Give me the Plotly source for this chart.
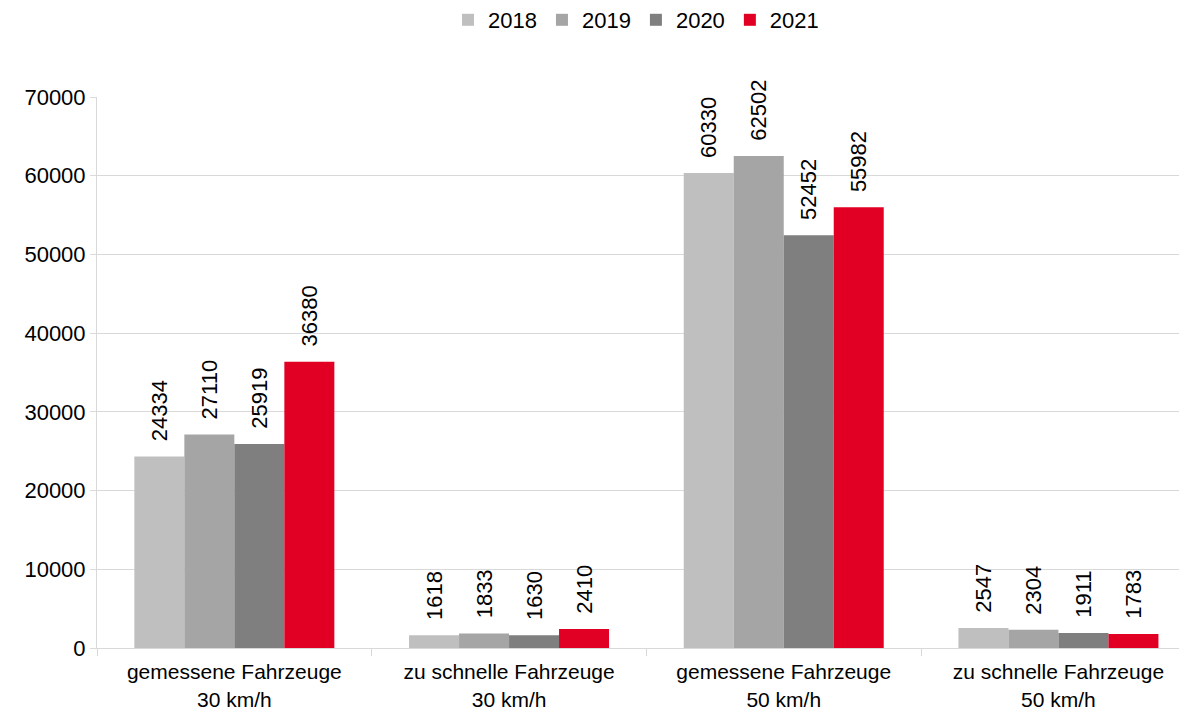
import plotly.graph_objects as go

categories = ["gemessene Fahrzeuge<br>30 km/h", "zu schnelle Fahrzeuge<br>30 km/h",
              "gemessene Fahrzeuge<br>50 km/h", "zu schnelle Fahrzeuge<br>50 km/h"]
years = ["2018", "2019", "2020", "2021"]
v2018 = [24334, 1618, 60330, 2547]
v2019 = [27110, 1833, 62502, 2304]
v2020 = [25919, 1630, 52452, 1911]
v2021 = [36380, 2410, 55982, 1783]
colors = ["#BFBFBF", "#A5A5A5", "#7F7F7F", "#E10024"]
y_ticks = [0, 10000, 20000, 30000, 40000, 50000, 60000, 70000]

FONT = "Liberation Sans, Arial, sans-serif"
FS = 22
PAD = "\u00a0\u00a0"

fig = go.Figure()
for name, vals, col in zip(years, [v2018, v2019, v2020, v2021], colors):
    fig.add_trace(go.Bar(
        x=categories, y=vals, name=name, marker=dict(color=col, line=dict(width=0)),
        text=[PAD + str(v) for v in vals], textposition="outside", textangle=-90,
        textfont=dict(size=FS, color="#000000", family=FONT),
        cliponaxis=False, constraintext="none",
    ))

fig.update_layout(
    barmode="group", bargap=0.272, bargroupgap=0,
    width=1179, height=706,
    margin=dict(l=89, r=0, t=89, b=66),
    paper_bgcolor="white", plot_bgcolor="white",
    font=dict(family=FONT, size=FS, color="#000000"),
    legend=dict(orientation="h", x=0.4945, xanchor="center", xref="paper",
                y=1 - 12 / 706, yanchor="middle", yref="container",
                font=dict(size=FS), itemwidth=30, traceorder="normal"),
    showlegend=True,
)
fig.update_xaxes(range=[-0.5, 3.468], showline=True, linecolor="#D9D9D9", linewidth=1,
                 ticks="outside", tickson="boundaries", ticklen=7, tickcolor="#D9D9D9",
                 ticklabelstandoff=5,
                 tickfont=dict(size=21), showgrid=False, automargin=False)
fig.update_yaxes(range=[0, 70000], tickvals=y_ticks, ticktext=[str(t) for t in y_ticks],
                 showgrid=True, gridcolor="#D9D9D9", gridwidth=1,
                 showline=True, linecolor="#D9D9D9", linewidth=1,
                 ticks="outside", ticklen=6, tickcolor="#D9D9D9",
                 tickfont=dict(size=FS), zeroline=False, automargin=False)

fig.write_html("out.html")
